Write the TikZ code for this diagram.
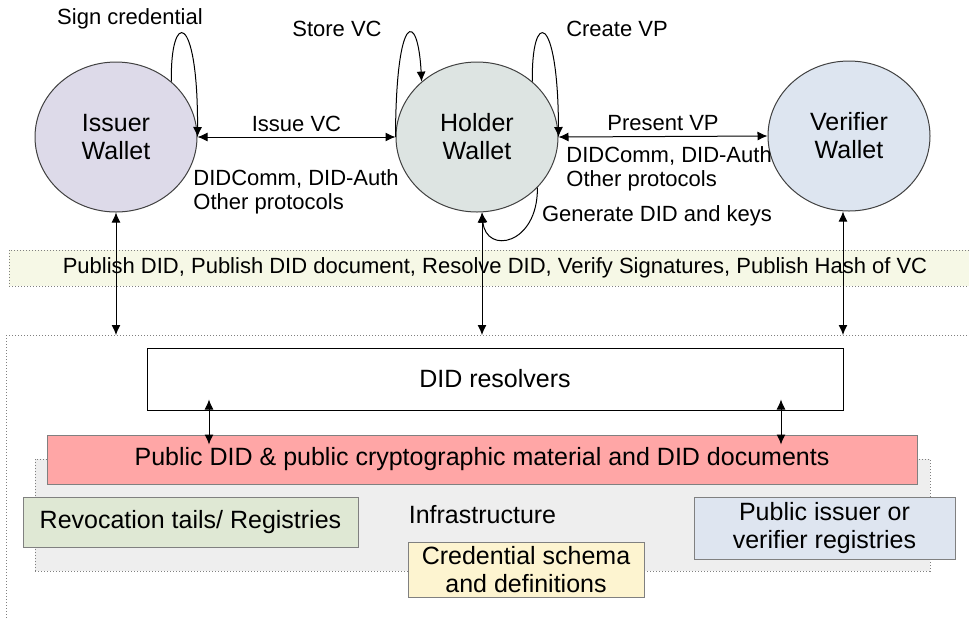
\documentclass[tikz,border=0pt]{standalone}
\usepackage{fontspec}
\setmainfont{Liberation Sans}
\usepackage{tikz}
\usetikzlibrary{arrows.meta,shapes.geometric}
\pgfdeclarelayer{bg}
\pgfsetlayers{bg,main}
\definecolor{issuerfill}{RGB}{221,218,233}
\definecolor{holderfill}{RGB}{221,228,226}
\definecolor{verifierfill}{RGB}{221,229,240}
\definecolor{bandfill}{RGB}{246,248,230}
\definecolor{didfill}{RGB}{255,166,166}
\definecolor{infrafill}{RGB}{238,238,238}
\definecolor{revocfill}{RGB}{223,232,212}
\definecolor{schemafill}{RGB}{253,244,208}
\definecolor{regfill}{RGB}{222,229,240}
\tikzset{
    wallet/.style={ellipse, draw=black!75, line width=0.5pt, minimum width=81pt, minimum height=75pt, align=center, font=\fontsize{12.5}{14}\selectfont},
    infobox/.style={rectangle, draw=gray, line width=0.5pt, align=center, inner sep=0pt, font=\fontsize{12.5}{14}\selectfont},
    dotbox/.style={rectangle, draw=gray, densely dotted, line width=0.5pt, inner sep=0pt},
    lbl/.style={align=left, inner sep=0pt, font=\fontsize{11}{12}\selectfont},
    link/.style={{Latex[length=5pt,width=4.5pt]}-{Latex[length=5pt,width=4.5pt]}, line width=0.5pt},
    selfarc/.style={-{Latex[length=5pt,width=4.5pt]}, line width=0.5pt},
}

\begin{document}
\begin{tikzpicture}[x=0.5pt, y=-0.5pt]
    \useasboundingbox (0,0) rectangle (969,618);

    \node [wallet, fill=issuerfill] (issuer) at (116,137) {Issuer\\Wallet};
    \node [wallet, fill=holderfill] (holder) at (477,137) {Holder\\Wallet};
    \node [wallet, fill=verifierfill] (verifier) at (849,136) {Verifier\\Wallet};

    \node [lbl] (sign) at (130,19) {Sign credential};
    \node [lbl] (store) at (337,29) {Store VC};
    \node [lbl] (create) at (617,29) {Create VP};
    \node [lbl] (generate) at (657,216) {Generate DID and keys};
    \node [lbl, anchor=west] (proto1) at (193,192) {DIDComm, DID-Auth\\Other protocols};
    \node [lbl, anchor=west] (proto2) at (566,169) {DIDComm, DID-Auth\\Other protocols};

    \node [dotbox, fill=bandfill, minimum width=486pt, minimum height=18pt, font=\fontsize{11}{12}\selectfont] (band) at (495,268)
        {Publish DID, Publish DID document, Resolve DID, Verify Signatures, Publish Hash of VC};

    \node [infobox, draw=black, fill=white, minimum width=348pt, minimum height=31pt] (resolvers) at (495,379) {DID resolvers};
    \node [dotbox, fill=infrafill, minimum width=447.5pt, minimum height=56pt, font=\fontsize{12.5}{14}\selectfont] (infra) at (482.5,515) {Infrastructure};
    \node [infobox, fill=didfill, minimum width=435pt, minimum height=24.5pt] (did) at (482,459.5)
        {Public DID \& public cryptographic material and DID documents};
    \node [infobox, fill=revocfill, minimum width=167.5pt, minimum height=25pt] (revoc) at (190.5,522) {Revocation tails/ Registries};
    \node [infobox, fill=schemafill, minimum width=118pt, minimum height=27.5pt] (schema) at (526,569.5) {Credential schema\\and definitions};
    \node [infobox, fill=regfill, minimum width=130.5pt, minimum height=31pt] (registries) at (824.5,528) {Public issuer or\\verifier registries};

    \begin{pgfonlayer}{bg}    % outer infrastructure frame
        \draw [gray, densely dotted, line width=0.5pt] (6,335) rectangle (990,640);
    \end{pgfonlayer}
    \coordinate (ftop) at (6,335);
    \coordinate (hbase) at ([xshift=2.5pt]holder.south);
    \coordinate (vbase) at ([xshift=-3pt]verifier.south);
    \coordinate (lcol) at (209,0);
    \coordinate (rcol) at (781,0);

    \draw [link] (issuer.east) -- node [above=2.5pt, lbl] {Issue VC} (holder.west);
    \draw [link] (holder.east) -- node [above=2.5pt, lbl] {Present VP} (verifier.west);

    \draw [selfarc] (issuer.45) .. controls (170,10) and (198,10) .. (issuer.east);
    \draw [selfarc] (holder.west) .. controls (396,10) and (418,10) .. (holder.135);
    \draw [selfarc] (holder.45) .. controls (531,10) and (558,10) .. (holder.east);
    \draw [selfarc] (holder.-40) .. controls (538,245) and (486,255) .. (hbase);

    \draw [link] (issuer.south) -- (issuer.south |- ftop);
    \draw [link] (hbase) -- (hbase |- ftop);
    \draw [link] (vbase) -- (vbase |- ftop);

    \draw [link, shorten <=-5.5pt, shorten >=-5pt] (lcol |- resolvers.south) -- (lcol |- did.north);
    \draw [link, shorten <=-5.5pt, shorten >=-5pt] (rcol |- resolvers.south) -- (rcol |- did.north);
\end{tikzpicture}
\end{document}
